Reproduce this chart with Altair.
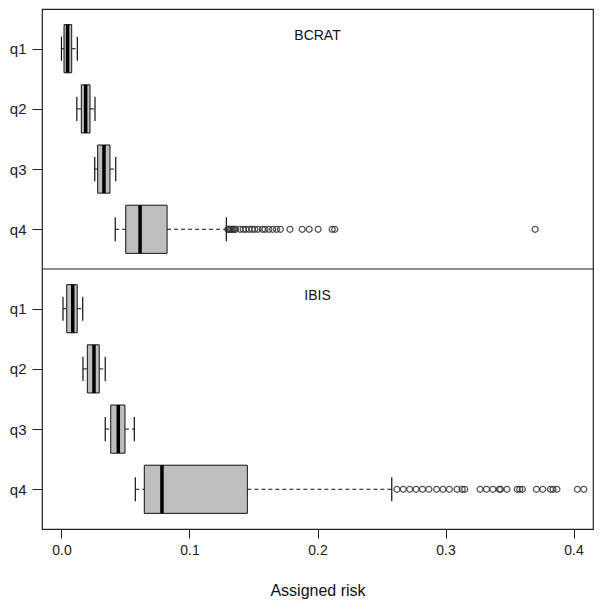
import altair as alt
import pandas as pd

groups = ["q1", "q2", "q3", "q4"]
panels = ["BCRAT", "IBIS"]

bcrat_low = [0.000, 0.012, 0.026, 0.042]
bcrat_q1 = [0.002, 0.0155, 0.0283, 0.0502]
bcrat_med = [0.0048, 0.0189, 0.0332, 0.0614]
bcrat_q3 = [0.0080, 0.0223, 0.0379, 0.0825]
bcrat_high = [0.0124, 0.0262, 0.0424, 0.1288]

ibis_low = [0.0012, 0.0168, 0.0342, 0.0577]
ibis_q1 = [0.0041, 0.0202, 0.0385, 0.0647]
ibis_med = [0.0088, 0.0254, 0.0444, 0.0785]
ibis_q3 = [0.0123, 0.0295, 0.0496, 0.1452]
ibis_high = [0.0166, 0.0342, 0.0569, 0.258]

bcrat_outliers_q4 = [0.130, 0.1305, 0.131, 0.132, 0.133, 0.134, 0.135, 0.136, 0.1395,
                     0.142, 0.144, 0.1465, 0.149, 0.151, 0.1535, 0.157, 0.159, 0.162,
                     0.165, 0.168, 0.171, 0.1785, 0.188, 0.1935, 0.2005, 0.2115, 0.2135,
                     0.370]
ibis_outliers_q4 = [0.262, 0.267, 0.272, 0.277, 0.282, 0.287, 0.293, 0.298, 0.303, 0.309,
                    0.313, 0.315, 0.327, 0.332, 0.337, 0.342, 0.343, 0.348, 0.356, 0.358,
                    0.360, 0.371, 0.376, 0.382, 0.384, 0.387, 0.403, 0.408]

FONT = "Liberation Sans"

rows = []
for p, lo, a, m, b, hi in [("BCRAT", bcrat_low, bcrat_q1, bcrat_med, bcrat_q3, bcrat_high),
                           ("IBIS", ibis_low, ibis_q1, ibis_med, ibis_q3, ibis_high)]:
    for i, g in enumerate(groups):
        rows.append(dict(panel=p, group=g, idx=i + 1, lo=lo[i], q1=a[i], med=m[i], q3=b[i], hi=hi[i]))
stats = pd.DataFrame(rows)

orows = [dict(panel="BCRAT", idx=4, v=v) for v in bcrat_outliers_q4] + \
        [dict(panel="IBIS", idx=4, v=v) for v in ibis_outliers_q4]
outl = pd.DataFrame(orows)

labels = pd.DataFrame({"panel": panels, "x": [0.2, 0.2], "idx": [0.79, 0.79]})

xscale = alt.Scale(domain=[-0.0152, 0.4152], nice=False, zero=False)
yscale = alt.Scale(domain=[0.34, 8.98], reverse=True, nice=False, zero=False)

calc = "datum.idx + (datum.panel == 'IBIS' ? 4.32 : 0)"

base = alt.Chart(stats).transform_calculate(
    pos=calc
).transform_calculate(
    b0="datum.pos - 0.4", b1="datum.pos + 0.4",
    s0="datum.pos - 0.2", s1="datum.pos + 0.2"
)

xaxis = alt.Axis(values=[0, 0.1, 0.2, 0.3, 0.4], format=".1f", domain=False, grid=False,
                 tickSize=9, tickColor="#222", labelFont=FONT, labelFontSize=14,
                 labelColor="#222", labelPadding=5, title="Assigned risk",
                 titleFont=FONT, titleFontSize=16, titleFontWeight="normal",
                 titleColor="#111", titlePadding=25)
yaxis = alt.Axis(values=[1, 2, 3, 4, 5.32, 6.32, 7.32, 8.32],
                 labelExpr="datum.value < 4.66 ? 'q' + datum.value : 'q' + round(datum.value - 4.32)",
                 domain=False, grid=False, tickSize=10, tickColor="#222",
                 labelFont=FONT, labelFontSize=15, labelColor="#222",
                 labelPadding=6, title=None)


def X(f):
    return alt.X(f, scale=xscale, axis=xaxis, title="Assigned risk")


def Y(f):
    return alt.Y(f, scale=yscale, axis=yaxis, title=None)


whisk_lo = base.mark_rule(color="#111", strokeDash=[4, 3], strokeWidth=1).encode(
    x=X("lo:Q"), x2="q1:Q", y=Y("pos:Q"),
)
whisk_hi = base.mark_rule(color="#111", strokeDash=[4, 3], strokeWidth=1).encode(
    x=X("q3:Q"), x2="hi:Q", y=Y("pos:Q"),
)
staple_lo = base.mark_rule(color="#111", strokeWidth=1.2).encode(
    x=X("lo:Q"), y=Y("s0:Q"), y2="s1:Q",
)
staple_hi = base.mark_rule(color="#111", strokeWidth=1.2).encode(
    x=X("hi:Q"), y=Y("s0:Q"), y2="s1:Q",
)
box = base.mark_rect(fill="#BEBEBE", stroke="#111", strokeWidth=1).encode(
    x=X("q1:Q"), x2="q3:Q", y=Y("b0:Q"), y2="b1:Q",
)
median = base.mark_rule(color="#000", strokeWidth=3.5).encode(
    x=X("med:Q"), y=Y("b0:Q"), y2="b1:Q",
)
points = alt.Chart(outl).transform_calculate(pos=calc).mark_point(
    shape="circle", size=36, filled=False, stroke="#333", strokeWidth=1.2, opacity=0.85
).encode(
    x=X("v:Q"), y=Y("pos:Q"),
)
divider = alt.Chart(pd.DataFrame({"panel": ["IBIS"], "idx": [0.34]})).transform_calculate(
    pos=calc
).mark_rule(color="#222", strokeWidth=1.2).encode(
    y=Y("pos:Q")
)
texts = alt.Chart(labels).transform_calculate(pos=calc).mark_text(
    font=FONT, fontSize=14, color="#111", align="center", baseline="middle"
).encode(
    x=X("x:Q"), y=Y("pos:Q"), text="panel:N",
)

chart = alt.layer(
    whisk_lo, whisk_hi, staple_lo, staple_hi, box, median, points, divider, texts
).properties(
    width=551, height=520,
    background="white",
    autosize=alt.AutoSizeParams(type="none"),
    padding={"left": 34, "top": 1, "right": 1, "bottom": 71},
).configure_view(
    stroke="#222", strokeWidth=1.2
)

chart.save("out.html", embed_options={"renderer": "svg", "actions": False})
